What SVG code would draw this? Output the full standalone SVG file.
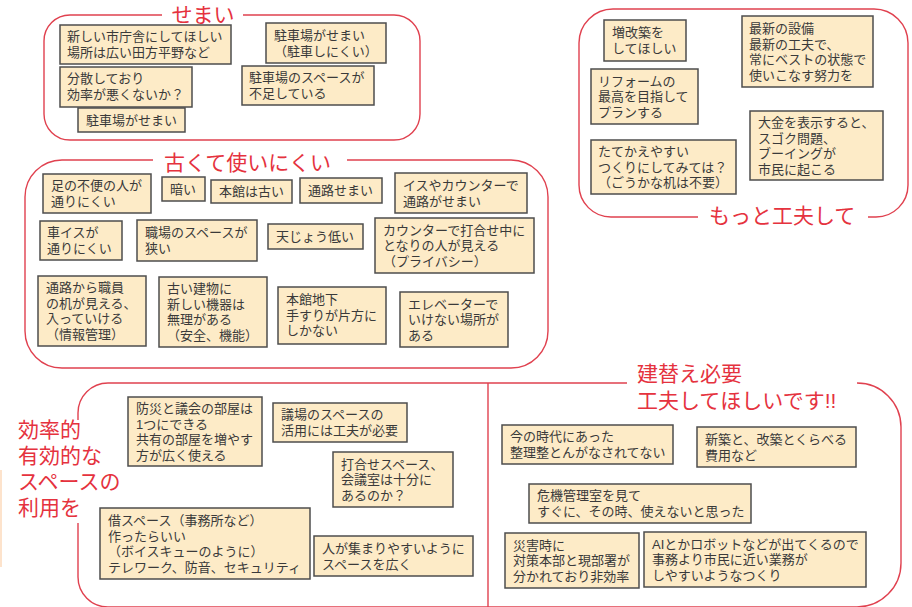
<svg xmlns="http://www.w3.org/2000/svg" width="912" height="607" viewBox="0 0 912 607">
<style>
.bg{fill:#ffffff}
.frame{fill:none;stroke:#e0414f;stroke-width:1.4}
.title{font-family:"Liberation Sans","Noto Sans CJK JP",sans-serif;font-size:21px;fill:#e5323e}
.note rect{fill:#fdebc7;stroke:#4d4d4d;stroke-width:1.5}
.note text{font-family:"Liberation Sans","Noto Sans CJK JP",sans-serif;font-size:13px;fill:#3a3a3a}
</style>
<rect class="bg" x="0" y="0" width="912" height="607"/>
<rect x="0" y="470" width="2" height="97" fill="#fde3cc"/>

<g id="frames">
  <path id="frame-semai" class="frame" d="M162,15 H70 A26,26 0 0 0 44,41 V114 A26,26 0 0 0 70,140 H394 A26,26 0 0 0 420,114 V41 A26,26 0 0 0 394,15 H243"/>
  <path id="frame-motto" class="frame" d="M698,217 H611 A32,32 0 0 1 579,185 V43 A34,34 0 0 1 613,9 H874 A34,34 0 0 1 908,43 V185 A32,32 0 0 1 876,217 H868"/>
  <path id="frame-furukute" class="frame" d="M153,160 H62 A37,37 0 0 0 25,197 V331 A37,37 0 0 0 62,368 H511 A37,37 0 0 0 548,331 V197 A37,37 0 0 0 511,160 H347"/>
  <path id="frame-bottom-top" class="frame" d="M78,420 V413 A30,30 0 0 1 108,383 H627"/>
  <path id="frame-bottom" class="frame" d="M857,383 A44,44 0 0 1 901,427 V563 A44,44 0 0 1 857,607 H108 A30,30 0 0 1 78,577 V523"/>
  <path id="divider" class="frame" d="M488,383 V607"/>
</g>

<g id="titles">
  <text class="title" x="203" y="22" text-anchor="middle">せまい</text>
  <text class="title" x="164" y="170">古くて使いにくい</text>
  <text class="title" x="709" y="223">もっと工夫して</text>
  <text class="title" x="637" y="381">建替え必要</text>
  <text class="title" x="637" y="408">工夫してほしいです!!</text>
  <text class="title" x="18" y="437">効率的</text>
  <text class="title" x="18" y="463">有効的な</text>
  <text class="title" x="18" y="489">スペースの</text>
  <text class="title" x="18" y="515">利用を</text>
</g>

<g id="connectors"></g>

<!-- せまい -->
<g id="a1" class="note"><rect x="60" y="25" width="171" height="39"/><text x="67" y="41">新しい市庁舎にしてほしい<tspan x="67" y="57">場所は広い田方平野など</tspan></text></g>
<g id="a2" class="note"><rect x="60" y="67" width="132" height="40"/><text x="67" y="83">分散しており<tspan x="67" y="98.5">効率が悪くないか？</tspan></text></g>
<g id="a3" class="note"><rect x="78" y="108" width="107" height="24"/><text x="86" y="124.5">駐車場がせまい</text></g>
<g id="a4" class="note"><rect x="266" y="23" width="120" height="40"/><text x="274" y="40">駐車場がせまい<tspan x="274" y="55.5">（駐車しにくい）</tspan></text></g>
<g id="a5" class="note"><rect x="242" y="66" width="132" height="39"/><text x="249" y="82">駐車場のスペースが<tspan x="249" y="97.5">不足している</tspan></text></g>

<!-- もっと工夫して -->
<g id="b1" class="note"><rect x="604" y="20" width="82" height="41"/><text x="612" y="37">増改築を<tspan x="612" y="52.5">してほしい</tspan></text></g>
<g id="b2" class="note"><rect x="742" y="16" width="131" height="71"/><text x="749" y="33">最新の設備<tspan x="749" y="48.5">最新の工夫で、</tspan><tspan x="749" y="64">常にベストの状態で</tspan><tspan x="749" y="79.5">使いこなす努力を</tspan></text></g>
<g id="b3" class="note"><rect x="591" y="69" width="107" height="55"/><text x="598" y="85.5">リフォームの<tspan x="598" y="101">最高を目指して</tspan><tspan x="598" y="116.5">プランする</tspan></text></g>
<g id="b4" class="note"><rect x="750" y="111" width="133" height="69"/><text x="758" y="127">大金を表示すると、<tspan x="758" y="142.5">スゴク問題、</tspan><tspan x="758" y="158">ブーイングが</tspan><tspan x="758" y="173.5">市民に起こる</tspan></text></g>
<g id="b5" class="note"><rect x="591" y="140" width="145" height="54"/><text x="598" y="156">たてかえやすい<tspan x="598" y="171.5">つくりにしてみては？</tspan><tspan x="598" y="187">（ごうかな机は不要）</tspan></text></g>

<!-- 古くて使いにくい -->
<g id="c1" class="note"><rect x="43" y="174" width="108" height="39"/><text x="51" y="190">足の不便の人が<tspan x="51" y="205.5">通りにくい</tspan></text></g>
<g id="c2" class="note"><rect x="162" y="177" width="43" height="24"/><text x="170" y="193.5">暗い</text></g>
<g id="c3" class="note"><rect x="211" y="180" width="81" height="23"/><text x="219" y="196">本館は古い</text></g>
<g id="c4" class="note"><rect x="300" y="178" width="82" height="25"/><text x="308" y="195">通路せまい</text></g>
<g id="c5" class="note"><rect x="395" y="173" width="132" height="40"/><text x="403" y="190">イスやカウンターで<tspan x="403" y="205.5">通路がせまい</tspan></text></g>
<g id="c6" class="note"><rect x="40" y="221" width="82" height="39"/><text x="47" y="237">車イスが<tspan x="47" y="252.5">通りにくい</tspan></text></g>
<g id="c7" class="note"><rect x="137" y="220" width="120" height="41"/><text x="145" y="237">職場のスペースが<tspan x="145" y="252.5">狭い</tspan></text></g>
<g id="c8" class="note"><rect x="268" y="224" width="95" height="25"/><text x="276" y="241">天じょう低い</text></g>
<g id="c9" class="note"><rect x="375" y="218" width="159" height="55"/><text x="383" y="234.5">カウンターで打合せ中に<tspan x="383" y="250">となりの人が見える</tspan><tspan x="383" y="265.5">（プライバシー）</tspan></text></g>
<g id="c10" class="note"><rect x="38" y="276" width="108" height="70"/><text x="46" y="292">通路から職員<tspan x="46" y="307.5">の机が見える、</tspan><tspan x="46" y="323">入っていける</tspan><tspan x="46" y="338.5">（情報管理）</tspan></text></g>
<g id="c11" class="note"><rect x="159" y="277" width="108" height="70"/><text x="167" y="293">古い建物に<tspan x="167" y="308.5">新しい機器は</tspan><tspan x="167" y="324">無理がある</tspan><tspan x="167" y="339.5">（安全、機能）</tspan></text></g>
<g id="c12" class="note"><rect x="278" y="287" width="108" height="57"/><text x="286" y="304">本館地下<tspan x="286" y="319.5">手すりが片方に</tspan><tspan x="286" y="335">しかない</tspan></text></g>
<g id="c13" class="note"><rect x="400" y="292" width="108" height="55"/><text x="408" y="308.5">エレベーターで<tspan x="408" y="324">いけない場所が</tspan><tspan x="408" y="339.5">ある</tspan></text></g>

<!-- 効率的有効的なスペースの利用を -->
<g id="d1" class="note"><rect x="128" y="397" width="134" height="69"/><text x="136" y="413">防災と議会の部屋は<tspan x="136" y="428.5">1つにできる</tspan><tspan x="136" y="444">共有の部屋を増やす</tspan><tspan x="136" y="459.5">方が広く使える</tspan></text></g>
<g id="d2" class="note"><rect x="273" y="403" width="134" height="39"/><text x="281" y="419">議場のスペースの<tspan x="281" y="434.5">活用には工夫が必要</tspan></text></g>
<g id="d3" class="note"><rect x="333" y="452" width="120" height="55"/><text x="341" y="468.5">打合せスペース、<tspan x="341" y="484">会議室は十分に</tspan><tspan x="341" y="499.5">あるのか？</tspan></text></g>
<g id="d4" class="note"><rect x="100" y="508" width="210" height="71"/><text x="108" y="525">借スペース（事務所など）<tspan x="108" y="540.5">作ったらいい</tspan><tspan x="108" y="556">（ボイスキューのように）</tspan><tspan x="108" y="571.5">テレワーク、防音、セキュリティ</tspan></text></g>
<g id="d5" class="note"><rect x="314" y="536" width="159" height="40"/><text x="322" y="553">人が集まりやすいように<tspan x="322" y="568.5">スペースを広く</tspan></text></g>

<!-- 建替え必要 工夫してほしいです -->
<g id="e1" class="note"><rect x="502" y="425" width="171" height="39"/><text x="510" y="441">今の時代にあった<tspan x="510" y="456.5">整理整とんがなされてない</tspan></text></g>
<g id="e2" class="note"><rect x="697" y="427" width="159" height="40"/><text x="705" y="444">新築と、改築とくらべる<tspan x="705" y="459.5">費用など</tspan></text></g>
<g id="e3" class="note"><rect x="529" y="484" width="222" height="39"/><text x="537" y="500">危機管理室を見て<tspan x="537" y="515.5">すぐに、その時、使えないと思った</tspan></text></g>
<g id="e4" class="note"><rect x="505" y="533" width="134" height="55"/><text x="513" y="549.5">災害時に<tspan x="513" y="565">対策本部と現部署が</tspan><tspan x="513" y="580.5">分かれており非効率</tspan></text></g>
<g id="e5" class="note"><rect x="644" y="532" width="222" height="55"/><text x="652" y="548.5">AIとかロボットなどが出てくるので<tspan x="652" y="564">事務より市民に近い業務が</tspan><tspan x="652" y="579.5">しやすいようなつくり</tspan></text></g>
</svg>
